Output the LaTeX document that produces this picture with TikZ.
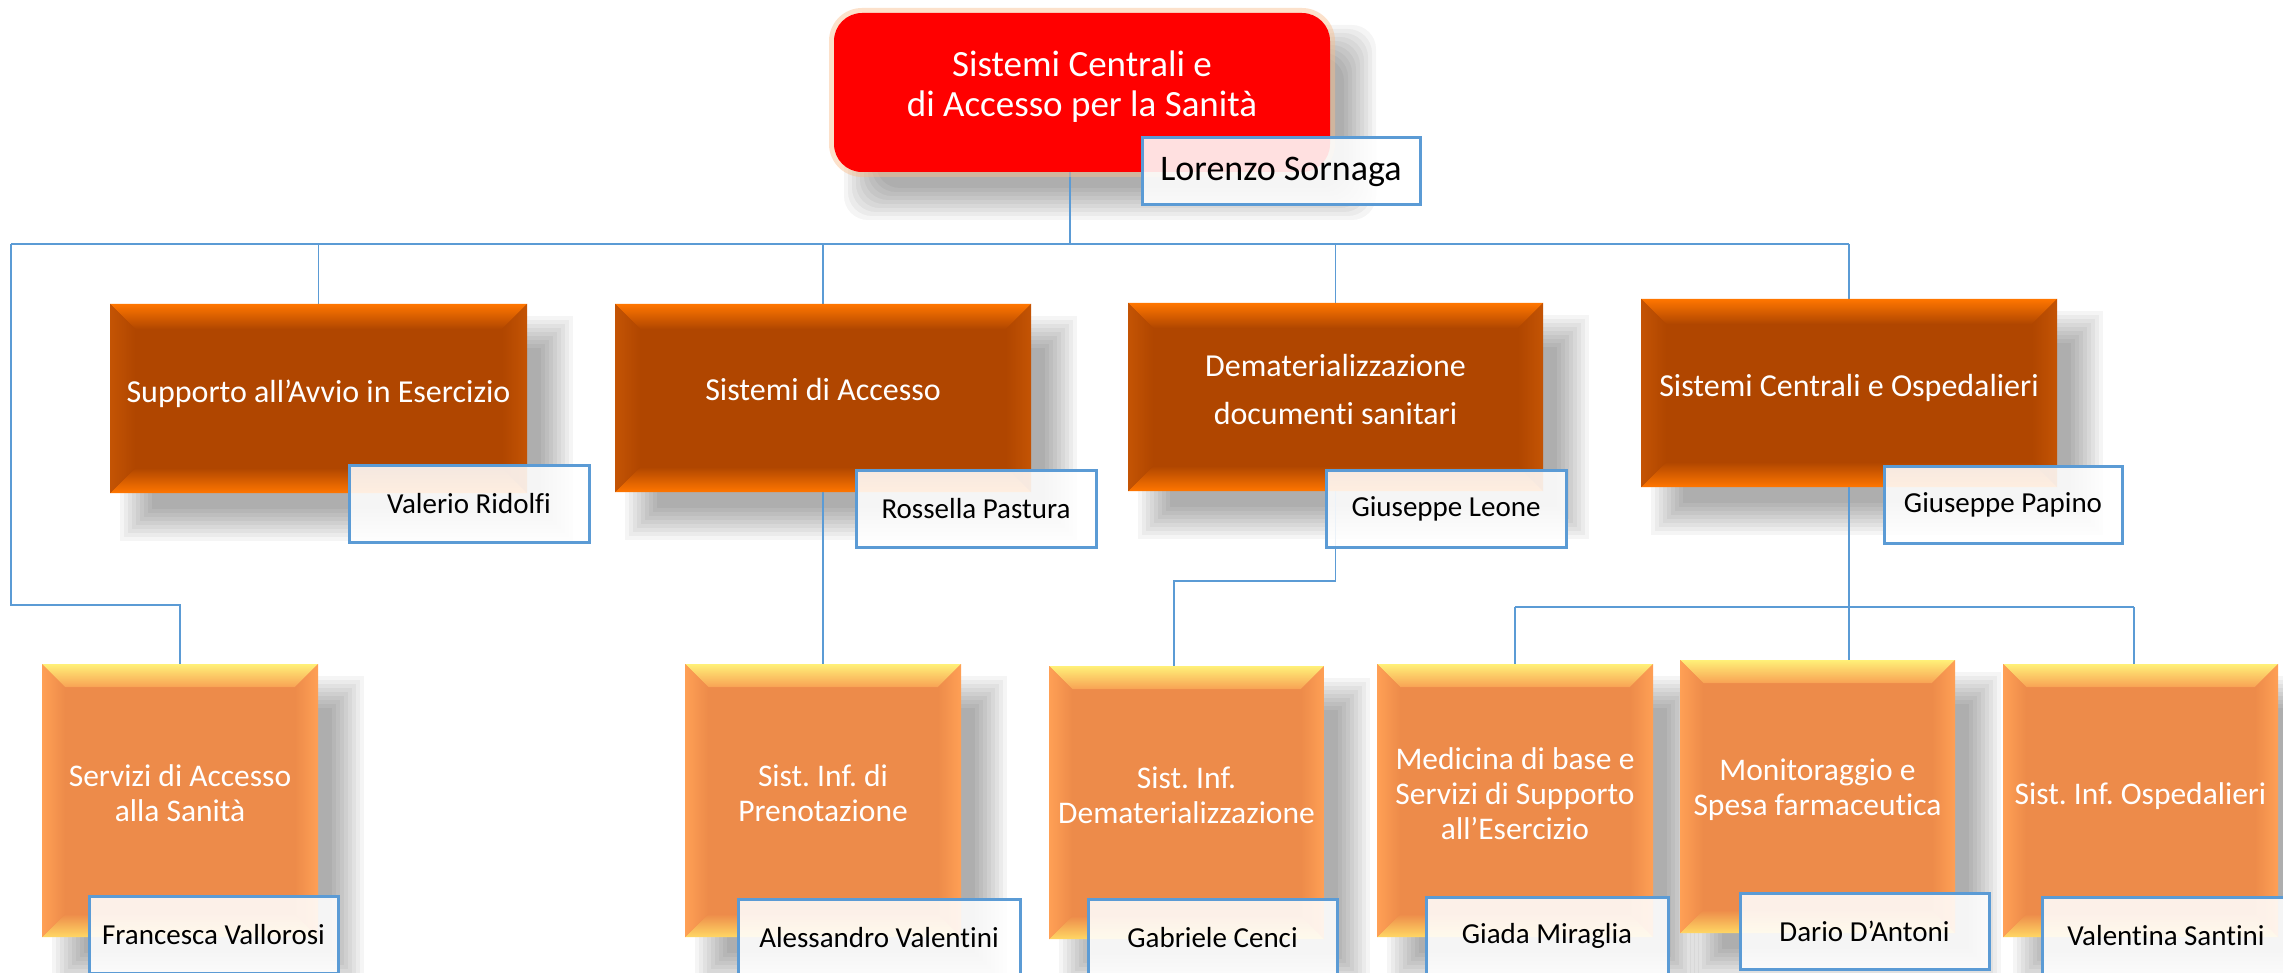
\documentclass[tikz,border=0pt]{standalone}
\usepackage{fontspec}
\setmainfont{Carlito}[Ligatures={NoCommon}]
\frenchspacing
\definecolor{connblue}{RGB}{91,155,213}
\definecolor{ltwobase}{RGB}{176,70,0}
\definecolor{ltwohi}{RGB}{255,118,0}
\definecolor{ltwoside}{RGB}{196,84,4}
\definecolor{lthreebase}{RGB}{237,139,74}
\definecolor{lthreetop}{RGB}{255,240,120}
\definecolor{lthreeinner}{RGB}{248,162,84}
\definecolor{lthreeside}{RGB}{255,160,85}
\definecolor{lthreebot}{RGB}{255,215,100}
\definecolor{topred}{RGB}{255,0,0}
\definecolor{glowc}{RGB}{250,190,140}
\pgfdeclarelayer{shadowlayer}
\pgfdeclarelayer{connlayer}
\pgfdeclarelayer{namelayer}
\pgfsetlayers{shadowlayer,connlayer,main,namelayer}
\newcommand\ftop{\fontsize{37}{40}\selectfont}
\newcommand\ftwo{\fontsize{32}{48}\selectfont}
\newcommand\fthree{\fontsize{31.5}{35}\selectfont}
\newcommand\fname{\fontsize{29}{34}\selectfont}
\newcommand\flor{\fontsize{36}{40}\selectfont}
\tikzset{
  conn/.style={draw=connblue,line width=1.8pt},
  boxnode/.style={inner sep=0pt,outer sep=0pt},
  toptext/.style={text=white,font=\ftop,align=center,inner sep=0pt},
  ltwotext/.style={text=white,font=\ftwo,align=center,inner sep=0pt},
  lthreetext/.style={text=white,font=\fthree,align=center,inner sep=0pt},
  namebox/.style={draw=connblue,line width=3pt,fill=white,fill opacity=0.88,text opacity=1,text=black,font=\fname,inner sep=0pt,align=center}
}
% soft shadow: [style]{x1}{y1}{x2}{y2}
\newcommand\softshadow[5][]{%
  \begin{pgfonlayer}{shadowlayer}
  \foreach \k in {0,...,8}{%
    \fill[black,opacity=0.04,#1] ({#2+10+4*\k},{#3+12+4*\k}) rectangle ({#4+46-4*\k},{#5+48-4*\k});}
  \end{pgfonlayer}}
% level two: {name}{x1}{y1}{x2}{y2}{text}{yshift}
\newcommand\levtwo[7]{%
  \softshadow{#2}{#3}{#4}{#5}
  \fill[ltwobase] (#2,#3) rectangle (#4,#5);
  \shade[top color=ltwohi,bottom color=ltwobase] (#2,#3) -- (#4,#3) -- ({#4-25},{#3+25}) -- ({#2+25},{#3+25}) -- cycle;
  \shade[top color=ltwobase,bottom color=ltwohi] (#2,#5) -- (#4,#5) -- ({#4-25},{#5-25}) -- ({#2+25},{#5-25}) -- cycle;
  \shade[left color=ltwoside,right color=ltwobase] (#2,#3) -- ({#2+25},{#3+25}) -- ({#2+25},{#5-25}) -- (#2,#5) -- cycle;
  \shade[left color=ltwobase,right color=ltwoside] (#4,#3) -- ({#4-25},{#3+25}) -- ({#4-25},{#5-25}) -- (#4,#5) -- cycle;
  \node[boxnode,minimum width={#4-#2},minimum height={#5-#3}] (#1) at ({(#2+#4)/2},{(#3+#5)/2}) {};
  \node[ltwotext] (#1t) at ([yshift=#7]#1.center) {#6};
}
% level three
\newcommand\levthree[7]{%
  \softshadow{#2}{#3}{#4}{#5}
  \fill[lthreebase] (#2,#3) rectangle (#4,#5);
  \shade[top color=lthreetop,bottom color=lthreeinner] (#2,#3) -- (#4,#3) -- ({#4-23},{#3+23}) -- ({#2+23},{#3+23}) -- cycle;
  \shade[top color=lthreebase,bottom color=lthreebot] (#2,#5) -- (#4,#5) -- ({#4-23},{#5-23}) -- ({#2+23},{#5-23}) -- cycle;
  \shade[left color=lthreeside,right color=lthreebase] (#2,#3) -- ({#2+23},{#3+23}) -- ({#2+23},{#5-23}) -- (#2,#5) -- cycle;
  \shade[left color=lthreebase,right color=lthreeside] (#4,#3) -- ({#4-23},{#3+23}) -- ({#4-23},{#5-23}) -- (#4,#5) -- cycle;
  \node[boxnode,minimum width={#4-#2},minimum height={#5-#3}] (#1) at ({(#2+#4)/2},{(#3+#5)/2}) {};
  \node[lthreetext] (#1t) at ([yshift=#7]#1.center) {#6};
}
% name box: [opts]{name}{x1}{y1}{x2}{y2}{text}
\newcommand\namebox[7][]{%
  \begin{pgfonlayer}{namelayer}
  \node[namebox,#1,minimum width={#5-#3},minimum height={#6-#4}] (#2) at ({(#3+#5)/2},{(#4+#6)/2}) {#7};
  \end{pgfonlayer}}
\begin{document}
\begin{tikzpicture}[x=1pt,y=-1pt]
\useasboundingbox (0,0) rectangle (2283,973);
\begin{pgfonlayer}{shadowlayer}
\fill[white] (0,0) rectangle (2283,973);
\end{pgfonlayer}
% top box
\softshadow[rounded corners=24pt]{834}{13}{1330}{172}
\fill[glowc,opacity=0.45,rounded corners=33pt] (829,8) rectangle (1335,177);
\fill[topred,rounded corners=28pt] (834,13) rectangle (1330,172);
\node[boxnode,minimum width=496,minimum height=159] (top) at (1082,92.5) {};
\node[toptext] (topt) at ([yshift=6pt]top.center) {Sistemi Centrali e\\di Accesso per la Sanità};
\namebox[font=\flor]{lor}{1142}{138}{1420}{205}{Lorenzo Sornaga}
% level two
\levtwo{sup}{110}{304}{527}{493}{Supporto all’Avvio in Esercizio}{5pt}
\levtwo{acc}{615}{304}{1031}{492}{Sistemi di Accesso}{8pt}
\levtwo{dem}{1128}{303}{1543}{491}{Dematerializzazione\\documenti sanitari}{7pt}
\levtwo{sco}{1641}{299}{2057}{487}{Sistemi Centrali e Ospedalieri}{5pt}
\namebox{val}{349}{465}{589}{542}{Valerio Ridolfi}
\namebox{ros}{856}{470}{1096}{547}{Rossella Pastura}
\namebox{leo}{1326}{470}{1566}{547}{Giuseppe Leone}
\namebox{pap}{1884}{466}{2122}{543}{Giuseppe Papino}
% level three
\levthree{serv}{42}{664}{318}{937}{Servizi di Accesso\\alla Sanità}{7pt}
\levthree{pre}{685}{664}{961}{937}{Sist. Inf. di\\Prenotazione}{7pt}
\levthree{sid}{1049}{666}{1324}{939}{Sist. Inf.\\Dematerializzazione}{7pt}
\levthree{med}{1377}{664}{1653}{937}{Medicina di base e\\Servizi di Supporto\\all’Esercizio}{7pt}
\levthree{mon}{1680}{660}{1955}{933}{Monitoraggio e\\Spesa farmaceutica}{7pt}
\levthree{osp}{2003}{664}{2278}{937}{Sist. Inf. Ospedalieri}{4pt}
\namebox{fra}{89}{896}{338}{973}{Francesca Vallorosi}
\namebox{ale}{738}{899}{1020}{976}{Alessandro Valentini}
\namebox{gab}{1088}{899}{1337}{976}{Gabriele Cenci}
\namebox{gia}{1426}{897}{1668}{974}{Giada Miraglia}
\namebox{dar}{1740}{893}{1989}{969}{Dario D’Antoni}
\namebox{vsa}{2042}{897}{2290}{974}{Valentina Santini}
% connectors
\coordinate (tj) at (1070,244);
\coordinate (lc1) at (11,244);
\coordinate (lc2) at (11,605);
\coordinate (dj) at (1174,581);
\coordinate (mj) at (1515,607);
\coordinate (oj) at (2134,607);
\begin{pgfonlayer}{connlayer}
\draw[conn] (tj |- top.south) -- (tj);
\draw[conn] (lc1) -- (sco.north |- lc1);
\draw[conn] (sup.north |- lc1) -- (sup.north);
\draw[conn] (acc.north |- lc1) -- (acc.north);
\draw[conn] (dem.north |- lc1) -- (dem.north);
\draw[conn] (sco.north |- lc1) -- (sco.north);
\draw[conn] (lc1) -- (lc2) -- (lc2 -| serv.north) -- (serv.north);
\draw[conn] (acc.south) -- (pre.north);
\draw[conn] (dem.south) -- (dem.south |- dj) -- (dj) -- (dj |- sid.north);
\draw[conn] (sco.south) -- (sco.south |- mon.north);
\draw[conn] (mj) -- (oj);
\draw[conn] (mj) -- (med.north);
\draw[conn] (oj) -- (oj |- osp.north);
\end{pgfonlayer}
\end{tikzpicture}
\end{document}
